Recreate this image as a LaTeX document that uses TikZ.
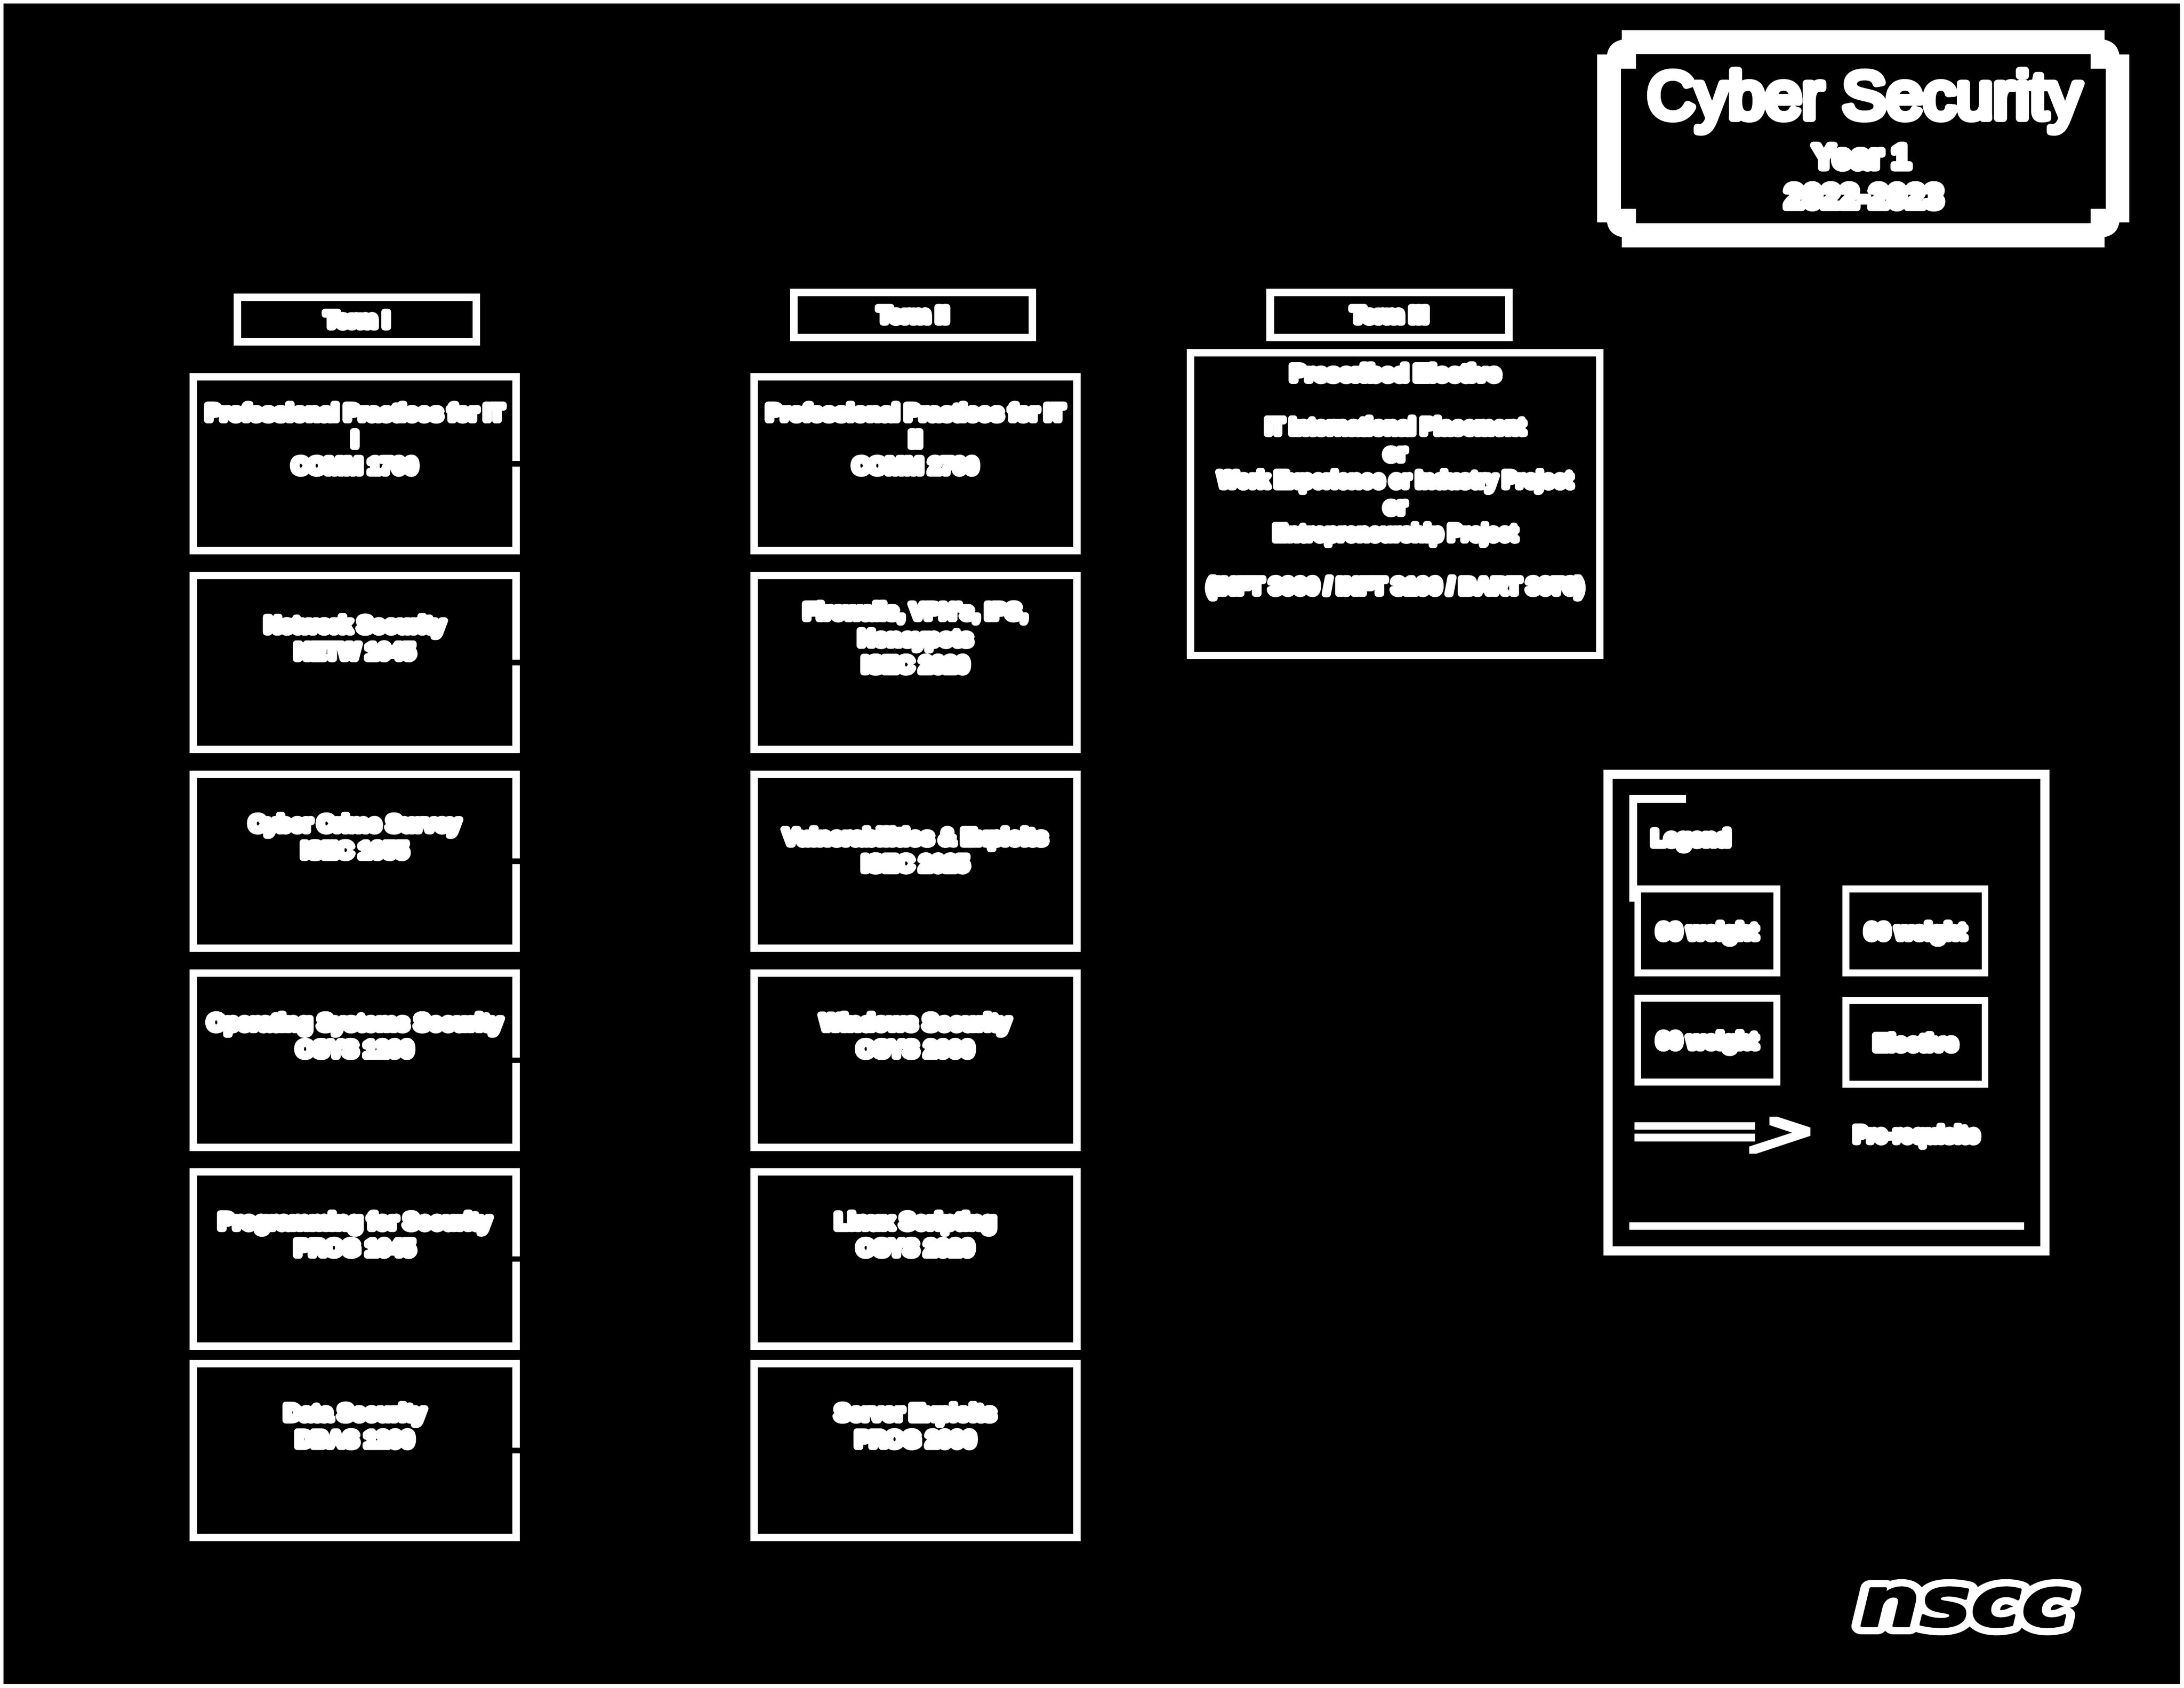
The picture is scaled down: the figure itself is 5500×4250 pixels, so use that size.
\documentclass[tikz,border=0pt]{standalone}
\usepackage{fontspec}
\usetikzlibrary{positioning}
\setmainfont{Liberation Sans}
\newfontfamily\bodyfont[UprightFont={* Bold},FakeBold=30]{Liberation Sans}
\newfontfamily\headfont[FakeBold=11]{Liberation Sans}
\newfontfamily\subheadfont[UprightFont={* Bold},FakeBold=21]{Liberation Sans}
\newfontfamily\logofont[UprightFont={* Bold Oblique},FakeBold=24]{DejaVu Sans}
\newfontfamily\logoinkfont[UprightFont={* Bold Oblique},FakeBold=3]{DejaVu Sans}
\newcommand{\roundglyphs}{\special{pdf:code 1 j}}
\newcommand{\tailline}{\\[-1.2pt]~}
\newcommand{\narrowline}[2]{\scalebox{#1}[1]{#2}}
\tikzset{
  coursebox/.style={rectangle, draw=white, line width=2.7pt, minimum width=117pt, minimum height=63.1pt, align=center, text=white, inner sep=0pt, outer sep=0pt, font=\bodyfont\fontsize{8}{9.65}\selectfont\roundglyphs},
  termbox/.style={coursebox, minimum width=86.6pt, minimum height=16.2pt},
  keybox/.style={coursebox, line width=2.45pt, minimum width=50.5pt, minimum height=30.4pt, text depth=0pt},
  plainlabel/.style={text=white, inner sep=0pt, outer sep=0pt, align=center, font=\bodyfont\fontsize{8}{9.65}\selectfont\roundglyphs},
  titlelabel/.style={plainlabel, anchor=base, font=\subheadfont\fontsize{12}{14}\selectfont\roundglyphs},
  notchline/.style={black, line width=2pt},
  keyline/.style={white, line width=2.8pt}
}
\begin{document}
\begin{tikzpicture}[x=0.144pt, y=-0.144pt, node distance=9pt]
\useasboundingbox (0,0) rectangle (5500,4250);
\fill[white] (0,0) rectangle (5500,4250);
\fill[black] (9,9) rectangle (5490,4240);

\fill[white, even odd rule] (4084,76) -- (5300,76) -- (5300,100) .. controls (5324,105) and (5334,120) .. (5337,137) -- (5362,137) -- (5362,560) -- (5337,560) .. controls (5334,578) and (5324,592) .. (5300,597) -- (5300,623) -- (4084,623) -- (4084,597) .. controls (4060,592) and (4050,578) .. (4047,560) -- (4022,560) -- (4022,137) -- (4047,137) .. controls (4050,120) and (4060,105) .. (4084,100) -- cycle
  (4120,136) -- (5265,136) -- (5265,173) -- (5303,173) -- (5303,526) -- (5265,526) -- (5265,562) -- (4120,562) -- (4120,526) -- (4082,526) -- (4082,173) -- (4120,173) -- cycle;
\node[titlelabel, font=\headfont\fontsize{24}{28}\selectfont\roundglyphs] (title) at (4695,298) {Cyber Security};
\node[titlelabel] (year) at (4688,423) {Year 1};
\node[titlelabel] (span) at (4694,523) {2022-2023};

\node[termbox] (t1) at (899,805) {Term I};
\node[termbox] (t2) at (2299.5,793) {Term II};
\node[termbox] (t3) at (3499.5,793) {Term III};

\node[coursebox] (c1) at (893.5,1167.5) {Professional Practices for IT\\I\\COMM 1700\\~\tailline};
\node[coursebox, below=of c1] (c2) {Network Security\\NETW 1045\\~\tailline};
\node[coursebox, below=of c2] (c3) {Cyber Crime Survey\\ISEC 1055\\~\tailline};
\node[coursebox, below=of c3] (c4) {Operating Systems Security\\OSYS 1200\\~\tailline};
\node[coursebox, below=of c4] (c5) {Programming for Security\\PROG 1045\\~\tailline};
\node[coursebox, below=6.3pt of c5] (c6) {Data Security\\DBAS 1200\\~\tailline};

\node[coursebox, right=86.3pt of c1] (d1) {Professional Practices for IT\\II\\COMM 2700\\~\tailline};
\node[coursebox, below=of d1] (d2) {Firewalls, VPN's, IPS,\\Honeypots\\ISEC 2020\\~\tailline};
\node[coursebox, below=of d2] (d3) {Vulnerabilities \& Exploits\\ISEC 2025\tailline};
\node[coursebox, below=of d3] (d4) {Windows Security\\OSYS 2000\\~\tailline};
\node[coursebox, below=of d4] (d5) {Linux Scripting\\OSYS 2020\\~\tailline};
\node[coursebox, below=6.3pt of d5] (d6) {Server Exploits\\PROG 2000\\~\tailline};

\node[coursebox, minimum width=148.4pt, minimum height=109.7pt] (e1) at (3513.75,1269.25) {\narrowline{1.03}{Prescribed Elective}\\~\\\narrowline{.945}{IT International Placement}\\or\\\narrowline{.93}{Work Experience or Industry Project}\\or\\\narrowline{.92}{Entrepreneurship Project}\\~\\(INFT 3000 / INFT 3100 / BART 3070)\\~\tailline};

\foreach \n in {c1,c2,c3,c4,c5,c6}
  \draw[notchline] (\n.east) +(-14,0) -- +(14,0);

\node[coursebox, line width=3.3pt, minimum width=158.4pt, minimum height=172.8pt] (legendbox) at (4600,2550) {};
\draw[keyline] (4246,2012) -- (4112.5,2012) -- (4112.5,2270);
\draw[keyline] (4103,3087) -- (5097,3087);
\node[plainlabel] (legendname) at (4258,2115) {Legend};
\node[keybox] (k1) at (4299.5,2344) {60 weight};
\node[keybox, right=25pt of k1] (k2) {60 weight};
\node[keybox, below=9.2pt of k1] (k3) {60 weight};
\node[keybox, right=25pt of k3, yshift=-0.8pt] (k4) {Elective};
\coordinate (pre1) at (4116,2850);
\coordinate (pre2) at (4420,2850);
\draw[white, line width=2.8pt, double=black, double distance=1.44pt] (pre1) -- (pre2);
\fill[white] (4456,2812) -- (4476,2812) -- (4559,2839) -- (4559,2860) -- (4423,2905) -- (4405,2905) -- (4405,2887) -- (4513,2852) -- (4456,2833) -- cycle;
\node[plainlabel] (prelabel) at (4826,2861) {\narrowline{.93}{Pre-requisite}};

\node[text=white, inner sep=0pt, xscale=1.24, transform shape, font=\logofont\fontsize{25}{29}\selectfont\roundglyphs] (logo) at (4950,4047) {nscc};
\node[text=black, inner sep=0pt, xscale=1.24, transform shape, font=\logoinkfont\fontsize{25}{29}\selectfont\roundglyphs] (logoink) at (4950,4047) {nscc};
\end{tikzpicture}
\end{document}
